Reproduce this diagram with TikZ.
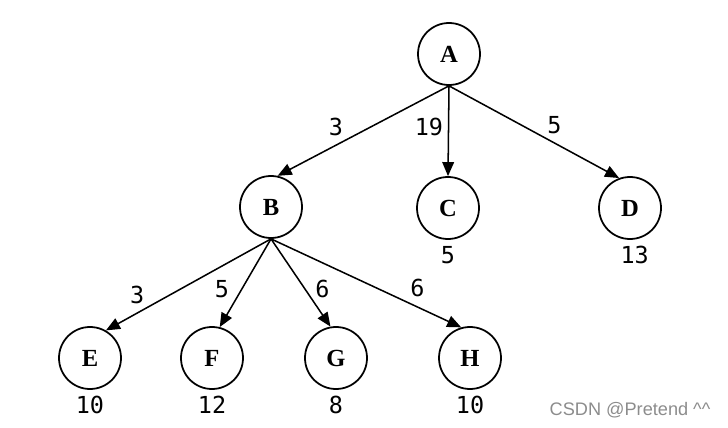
\documentclass[tikz,border=0pt]{standalone}
\usepackage{fontspec}
\setmainfont{Liberation Serif}
\newfontfamily\numfont{DejaVu Sans Mono}
\newfontfamily\markfont{Liberation Sans}
\usetikzlibrary{arrows.meta,positioning}
\tikzset{
  vert/.style={draw, circle, line width=1.5pt, minimum size=1.86cm, inner sep=0pt,
               font=\bfseries\fontsize{21}{21}\selectfont},
  link/.style={line width=1.3pt, -{Triangle[length=12pt,width=10pt]}},
  lbl/.style={font=\numfont\fontsize{20}{20}\selectfont, inner sep=2pt},
  cost/.style={lbl, below=3pt},
}

\begin{document}
\begin{tikzpicture}[x=0.03cm, y=-0.03cm]
    \useasboundingbox (0,0) rectangle (728,428);
    % root and first level
    \node[vert] (A) at (449,54) {A};
    \node[vert] (B) at (271,207) {B};
    \node[vert] (C) at (448,208) {C};
    \node[vert] (D) at (630,208) {D};
    % second level
    \node[vert] (E) at (90,358) {E};
    \node[vert] (F) at (212,358) {F};
    \node[vert] (G) at (336,358) {G};
    \node[vert] (H) at (470,358) {H};
    % values under the nodes
    \node[cost] (cC) at (C.south) {5};
    \node[cost, xshift=4pt] (cD) at (D.south) {13};
    \node[cost] (cE) at (E.south) {10};
    \node[cost] (cF) at (F.south) {12};
    \node[cost] (cG) at (G.south) {8};
    \node[cost] (cH) at (H.south) {10};
    % edges with weights
    \draw[link] (A.south) -- node[lbl, pos=0.66, above=5pt]{3} (B.78);
    \draw[link] (A.south) -- node[lbl, pos=0.45, left=2pt]{19} (C.north);
    \draw[link] (A.south) -- node[lbl, pos=0.62, above=5pt]{5} (D.110);
    \draw[link] (B.south) -- node[lbl, pos=0.81, above=5pt]{3} (E.60);
    \draw[link] (B.south) -- node[lbl, pos=0.575, left=8pt]{5} (F.76);
    \draw[link] (B.south) -- node[lbl, pos=0.575, right=6pt]{6} (G.100);
    \draw[link] (B.south) -- node[lbl, pos=0.77, above=6pt]{6} (H.106);
    % watermark
    \node[font=\markfont\fontsize{15.5}{15.5}\selectfont, text=black!45] (wm) at (630,410) {CSDN @Pretend \^{}\^{}};
\end{tikzpicture}
\end{document}
